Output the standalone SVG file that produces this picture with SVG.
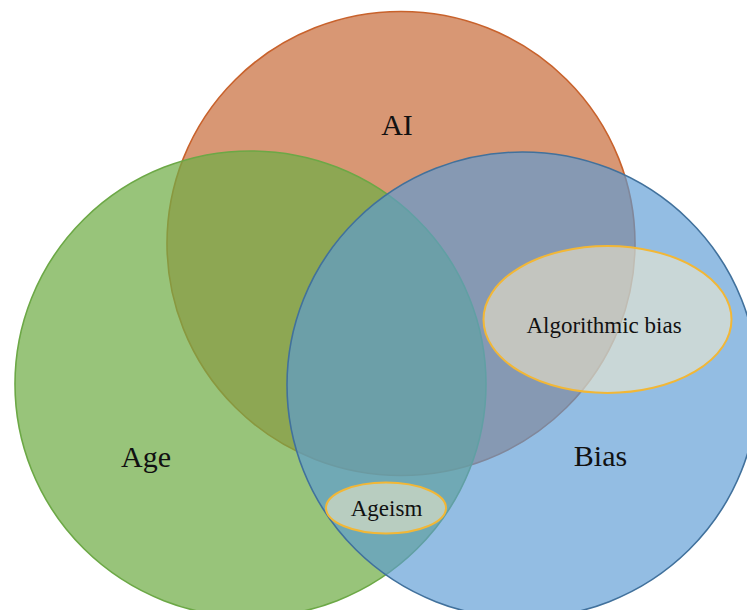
<svg xmlns="http://www.w3.org/2000/svg" width="747" height="610" viewBox="0 0 747 610">
<style>
.lbl{font-family:"Liberation Serif","Times New Roman",serif;fill:#111;text-anchor:middle}
.big{font-size:30px}
.small{font-size:23px}
.sub{fill:#FFF2CC;fill-opacity:0.5;stroke:#F2B736;stroke-width:2}
</style>
<rect width="747" height="610" fill="#ffffff"/>
<g id="ai">
<ellipse cx="401" cy="243.5" rx="234" ry="232" fill="#D89774" stroke="#C8622C" stroke-width="1.6"/>
<text class="lbl big" x="397" y="135">AI</text>
</g>
<g id="age">
<ellipse cx="250.5" cy="384" rx="235.5" ry="233" fill="#70AD47" fill-opacity="0.72" stroke="#6CA846" stroke-width="1.6"/>
<text class="lbl big" x="146" y="466.5">Age</text>
</g>
<g id="bias">
<ellipse cx="522.5" cy="385" rx="235.5" ry="233" fill="#5B9BD5" fill-opacity="0.66" stroke="#41719C" stroke-width="1.6"/>
<text class="lbl big" x="600.5" y="466">Bias</text>
</g>
<g id="algorithmic-bias">
<ellipse class="sub" cx="607.5" cy="319.5" rx="124" ry="73.5"/>
<text class="lbl small" x="604" y="333">Algorithmic bias</text>
</g>
<g id="ageism">
<ellipse class="sub" cx="386" cy="508" rx="60" ry="25.5"/>
<text class="lbl small" x="386.5" y="515.5">Ageism</text>
</g>
</svg>
